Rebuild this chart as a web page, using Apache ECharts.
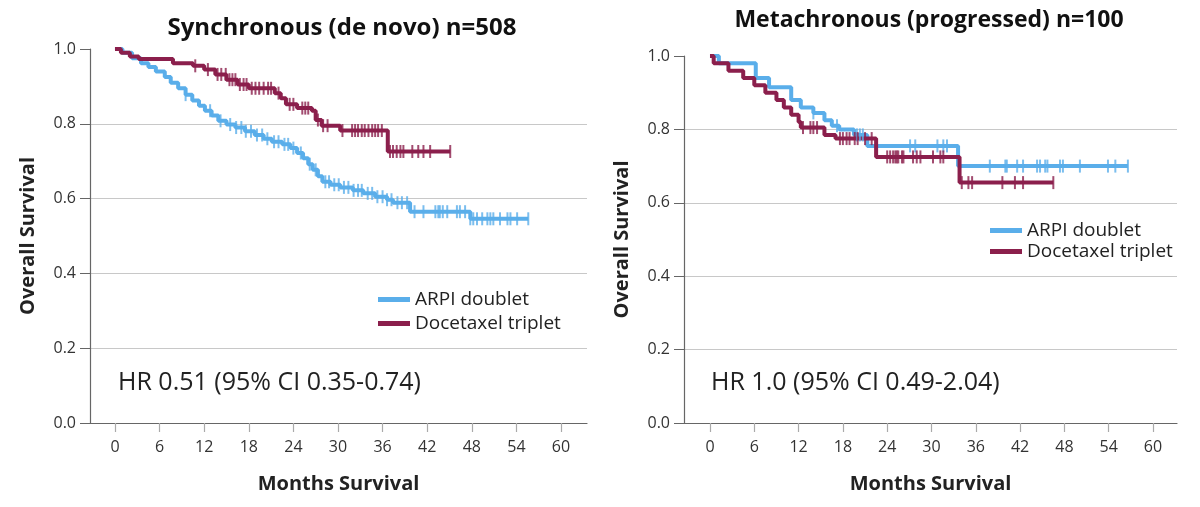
<!DOCTYPE html>
<html>
<head>
<meta charset="utf-8">
<script src="https://cdn.jsdelivr.net/npm/echarts@6/dist/echarts.min.js"></script>
<style>
  html, body { margin: 0; padding: 0; background: #fff; }
  #main { width: 1200px; height: 507px; }
</style>
</head>
<body>
<div id="main"></div>
<script>
// 左图: Synchronous (de novo)
const syncArpiT = [0, 1, 2.3, 3.5, 4.5, 5.5, 6.7, 7.5, 8.5, 9.5, 10.4, 11.3, 12.1, 13, 13.9, 15, 16.2, 17.5, 18.8, 20, 21.1, 22.5, 23.6, 24.5, 25.3, 26, 26.6, 27.3, 27.9, 29, 30.3, 32, 33.4, 35, 36.6, 37.4, 39.7, 47.8, 55.6]
const syncArpiS = [1.0, 0.99, 0.975, 0.962, 0.952, 0.94, 0.925, 0.91, 0.895, 0.878, 0.862, 0.848, 0.835, 0.822, 0.808, 0.798, 0.79, 0.78, 0.77, 0.76, 0.752, 0.745, 0.735, 0.722, 0.708, 0.692, 0.677, 0.66, 0.645, 0.637, 0.63, 0.622, 0.614, 0.605, 0.597, 0.589, 0.565, 0.546, 0.546]
const syncArpiCens = [9.5, 12.8, 14.2, 15.5, 16.3, 17.0, 17.6, 18.3, 19.1, 19.8, 20.5, 21.4, 22.0, 22.8, 23.3, 24.0, 25.0, 26.2, 27.0, 28.3, 28.8, 29.5, 30.1, 30.8, 31.4, 32.1, 32.7, 33.2, 34.0, 34.6, 35.3, 36.0, 36.6, 37.2, 38.0, 38.6, 39.3, 40.3, 41.5, 43.1, 43.5, 43.7, 44.1, 44.7, 46.0, 46.4, 47.1, 47.8, 48.2, 48.7, 49.4, 50.1, 50.5, 50.9, 51.8, 52.8, 53.2, 54.1, 55.6]

const syncDoceT = [0, 0.8, 2, 3.2, 7.8, 10.5, 12, 13.5, 15, 16.5, 18, 21.5, 22.3, 23, 24.5, 26.5, 27, 27.8, 30.3, 36.7, 45.1]
const syncDoceS = [1.0, 0.99, 0.98, 0.973, 0.962, 0.955, 0.945, 0.932, 0.918, 0.905, 0.895, 0.882, 0.868, 0.852, 0.842, 0.835, 0.81, 0.795, 0.782, 0.726, 0.726]
const syncDoceCens = [10.8, 12.5, 13.8, 14.3, 14.9, 15.4, 15.8, 16.2, 16.8, 17.3, 17.7, 18.4, 18.9, 19.4, 20.0, 20.6, 21.0, 22.0, 23.5, 24.0, 25.2, 25.6, 26.0, 27.3, 28.0, 28.6, 30.6, 31.9, 32.3, 32.7, 33.2, 33.6, 34.1, 34.6, 35.0, 35.4, 35.9, 37.0, 37.4, 37.9, 38.4, 38.8, 40.0, 40.8, 41.5, 42.4, 45.1]

// 右图: Metachronous (progressed)
const metaArpiT = [0, 1.2, 6.2, 8, 11, 12.3, 14, 15.5, 16.5, 17.5, 19.5, 21.3, 33.6, 56.6]
const metaArpiS = [1.0, 0.98, 0.94, 0.915, 0.88, 0.86, 0.845, 0.825, 0.81, 0.8, 0.785, 0.755, 0.7, 0.7]
const metaArpiCens = [14.0, 17.2, 19.9, 20.3, 20.7, 27.1, 27.8, 30.8, 31.6, 32.1, 37.9, 40.0, 40.2, 41.6, 42.4, 44.3, 44.7, 45.4, 45.7, 47.4, 47.8, 50.1, 53.9, 54.9, 56.6]

const metaDoceT = [0, 0.5, 2.5, 4.5, 6, 7.5, 9, 10, 11, 12, 12.3, 15.5, 17, 22.5, 33.8, 46.5]
const metaDoceS = [1.0, 0.98, 0.96, 0.94, 0.92, 0.9, 0.88, 0.86, 0.84, 0.82, 0.805, 0.785, 0.775, 0.725, 0.655, 0.655]
const metaDoceCens = [12.6, 13.6, 14.0, 14.5, 17.6, 18.0, 18.5, 18.9, 19.6, 20.0, 21.0, 21.9, 24.0, 24.4, 24.8, 25.1, 25.3, 25.5, 26.0, 26.2, 27.5, 28.0, 28.5, 30.2, 31.2, 31.6, 34.1, 35.0, 35.5, 39.6, 41.3, 42.4, 46.5]

const xTicks = [0, 6, 12, 18, 24, 30, 36, 42, 48, 54, 60]
const legendNames = ['ARPI doublet', 'Docetaxel triplet']
const titles = ['Synchronous (de novo) n=508', 'Metachronous (progressed) n=100']
const hrTexts = ['HR 0.51 (95% CI 0.35-0.74)', 'HR 1.0 (95% CI 0.49-2.04)']

const BLUE = '#5aaeea'
const MAROON = '#8b1f4c'
const FONT = '"Open Sans", "DejaVu Sans", sans-serif'

function kmData(ts, ss) {
    return ts.map((t, i) => [t, ss[i]])
}
// 删失点取当时的生存率
function censData(ts, ss, cens) {
    return cens.map(c => {
        let s = ss[0]
        for (let i = 0; i < ts.length; i++) {
            if (ts[i] <= c) s = ss[i]
        }
        return [c, s]
    })
}

function xAxisOf(idx, min, max) {
    return {
        type: 'value', gridIndex: idx, min: min, max: max,
        name: 'Months Survival', nameLocation: 'middle', nameGap: 51,
        nameTextStyle: { fontFamily: FONT, fontSize: 20, fontWeight: 'bold', color: '#222' },
        axisLine: { show: true, onZero: false, lineStyle: { color: '#666', width: 1.2 } },
        axisTick: { show: true, length: 9, customValues: xTicks, lineStyle: { color: '#aaa', width: 1.2 } },
        axisLabel: { customValues: xTicks, margin: 16, fontFamily: FONT, fontSize: 16, color: '#333' },
        splitLine: { show: false }
    }
}
function yAxisOf(idx) {
    return {
        type: 'value', gridIndex: idx, min: 0, max: 1, interval: 0.2,
        name: 'Overall Survival', nameLocation: 'middle', nameGap: 52, nameRotate: 90,
        nameTextStyle: { fontFamily: FONT, fontSize: 20, fontWeight: 'bold', color: '#222' },
        axisLine: { show: true, onZero: false, lineStyle: { color: '#666', width: 1.2 } },
        axisTick: { show: true, length: 10, lineStyle: { color: '#666' } },
        axisLabel: { margin: 14, fontFamily: FONT, fontSize: 16, color: '#333', formatter: v => v.toFixed(1) },
        splitLine: { show: true, showMinLine: false, showMaxLine: false, lineStyle: { color: '#c8c8c8', width: 1.2 } }
    }
}
function lineSeries(name, idx, ts, ss, color) {
    return {
        name: name, type: 'line', xAxisIndex: idx, yAxisIndex: idx,
        step: 'end', symbol: 'none', data: kmData(ts, ss),
        lineStyle: { color: color, width: 4 }, itemStyle: { color: color }, z: 3
    }
}
function censSeries(idx, ts, ss, cens, color) {
    return {
        name: 'censor', type: 'scatter', xAxisIndex: idx, yAxisIndex: idx,
        symbol: 'rect', symbolSize: [2, 13], data: censData(ts, ss, cens),
        itemStyle: { color: color }, silent: true, z: 4
    }
}

let chart = echarts.init(document.getElementById('main'))
const option = {
    animation: false,
    backgroundColor: '#fff',
    title: [
        { text: titles[0], left: 342, top: 16, padding: 0, textAlign: 'center', textStyle: { fontFamily: FONT, fontSize: 24, fontWeight: 'bold', color: '#111' } },
        { text: titles[1], left: 929, top: 9, padding: 0, textAlign: 'center', textStyle: { fontFamily: FONT, fontSize: 23, fontWeight: 'bold', color: '#111' } },
        { text: hrTexts[0], left: 118, top: 370, padding: 0, textStyle: { fontFamily: FONT, fontSize: 25, fontWeight: 'normal', color: '#222' } },
        { text: hrTexts[1], left: 711, top: 370, padding: 0, textStyle: { fontFamily: FONT, fontSize: 25, fontWeight: 'normal', color: '#222' } }
    ],
    legend: [
        { data: legendNames, orient: 'vertical', left: 378, top: 290, padding: 0, itemWidth: 32, itemHeight: 5, itemGap: 5, icon: 'rect',
          textStyle: { fontFamily: FONT, fontSize: 19, color: '#222' } },
        { data: legendNames, orient: 'vertical', left: 990, top: 221, padding: 0, itemWidth: 32, itemHeight: 5, itemGap: 2, icon: 'rect',
          textStyle: { fontFamily: FONT, fontSize: 19, color: '#222' } }
    ],
    grid: [
        { left: 90, right: 613, top: 49, bottom: 84 },
        { left: 684, right: 23, top: 56, bottom: 84 }
    ],
    xAxis: [xAxisOf(0, -3.36, 63.5), xAxisOf(1, -3.52, 63.25)],
    yAxis: [yAxisOf(0), yAxisOf(1)],
    series: [
        lineSeries('ARPI doublet', 0, syncArpiT, syncArpiS, BLUE),
        lineSeries('Docetaxel triplet', 0, syncDoceT, syncDoceS, MAROON),
        censSeries(0, syncArpiT, syncArpiS, syncArpiCens, BLUE),
        censSeries(0, syncDoceT, syncDoceS, syncDoceCens, MAROON),
        lineSeries('ARPI doublet', 1, metaArpiT, metaArpiS, BLUE),
        lineSeries('Docetaxel triplet', 1, metaDoceT, metaDoceS, MAROON),
        censSeries(1, metaArpiT, metaArpiS, metaArpiCens, BLUE),
        censSeries(1, metaDoceT, metaDoceS, metaDoceCens, MAROON)
    ]
}
chart.setOption(option)
</script>
</body>
</html>
